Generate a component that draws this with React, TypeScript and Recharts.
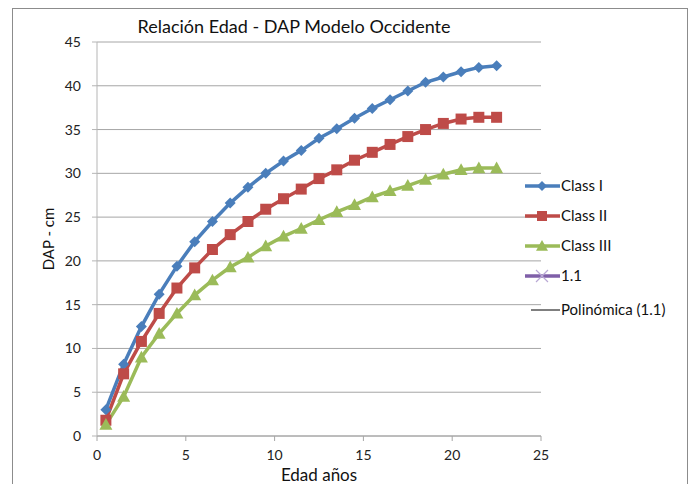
import React from 'react';
import { LineChart, Line, XAxis, YAxis, CartesianGrid } from 'recharts';

const ages = [0.5, 1.5, 2.5, 3.5, 4.5, 5.5, 6.5, 7.5, 8.5, 9.5, 10.5, 11.5, 12.5, 13.5, 14.5, 15.5, 16.5, 17.5, 18.5, 19.5, 20.5, 21.5, 22.5];
const classI = [3.0, 8.2, 12.5, 16.2, 19.4, 22.2, 24.5, 26.6, 28.4, 30.0, 31.4, 32.6, 34.0, 35.1, 36.3, 37.4, 38.4, 39.4, 40.4, 41.0, 41.6, 42.1, 42.3];
const classII = [1.8, 7.1, 10.8, 14.0, 16.9, 19.2, 21.3, 23.0, 24.5, 25.9, 27.1, 28.2, 29.4, 30.4, 31.5, 32.4, 33.3, 34.2, 35.0, 35.7, 36.2, 36.4, 36.4];
const classIII = [1.3, 4.5, 9.0, 11.7, 14.0, 16.1, 17.8, 19.3, 20.4, 21.7, 22.8, 23.7, 24.7, 25.6, 26.4, 27.3, 28.0, 28.6, 29.3, 29.9, 30.4, 30.6, 30.6];

const xTicks = [0, 5, 10, 15, 20, 25];
const yTicks = [0, 5, 10, 15, 20, 25, 30, 35, 40, 45];

const legendItems = ['Class I', 'Class II', 'Class III', '1.1', 'Polinómica (1.1)'];

const BLUE = '#4A7EBB';
const RED = '#BE4B48';
const GREEN = '#9BBB59';
const PURPLE = '#7F5FA8';

const FONT = 'Lato, "Open Sans", sans-serif';

const data = ages.map((age, i) => ({
  age,
  c1: classI[i],
  c2: classII[i],
  c3: classIII[i],
}));

const diamond = (cx: number, cy: number, r: number) =>
  `M${cx},${cy - r} L${cx + r},${cy} L${cx},${cy + r} L${cx - r},${cy} Z`;
const square = (cx: number, cy: number, r: number) =>
  `M${cx - r},${cy - r} L${cx + r},${cy - r} L${cx + r},${cy + r} L${cx - r},${cy + r} Z`;
const triangle = (cx: number, cy: number, r: number) =>
  `M${cx},${cy - r} L${cx + r},${cy + r * 0.8} L${cx - r},${cy + r * 0.8} Z`;

const DiamondDot = (props: any) => (
  <path key={`d-${props.index}`} d={diamond(props.cx, props.cy, 5.5)} fill={BLUE} />
);
const SquareDot = (props: any) => (
  <path key={`s-${props.index}`} d={square(props.cx, props.cy, 5.5)} fill={RED} />
);
const TriangleDot = (props: any) => (
  <path key={`t-${props.index}`} d={triangle(props.cx, props.cy, 6.5)} fill={GREEN} />
);

// legend drawn by hand: "1.1" and the trend line have no visible marks in the plot
function ChartLegend() {
  return (
    <svg width={174} height={150} style={{ position: 'absolute', left: 520, top: 168 }}>
      {legendItems.map((name, i) => {
        const y = 18 + i * 30 + (i === 4 ? 4 : 0);
        let mark = null;
        if (i === 0) mark = <path d={diamond(22, y, 5)} fill={BLUE} />;
        if (i === 1) mark = <path d={square(22, y, 5)} fill={RED} />;
        if (i === 2) mark = <path d={triangle(22, y, 6)} fill={GREEN} />;
        if (i === 3)
          mark = (
            <path d={`M16,${y - 6} L28,${y + 6} M16,${y + 6} L28,${y - 6}`} stroke="#B9A8D4" strokeWidth={1.2} />
          );
        const color = [BLUE, RED, GREEN, PURPLE, '#000'][i];
        return (
          <g key={name}>
            <line
              x1={i === 4 ? 11 : 5}
              x2={40}
              y1={y}
              y2={y}
              stroke={color}
              strokeWidth={i === 4 ? 1 : 3.5}
            />
            {mark}
            <text x={41} y={y} dy="0.35em" fontSize={15} fontFamily={FONT} fill="#111">
              {name}
            </text>
          </g>
        );
      })}
    </svg>
  );
}

export default function App() {
  return (
    <div style={{ position: 'absolute', left: 0, top: 0, width: 694, height: 484, overflow: 'hidden', background: '#fff' }}>
      <div
        style={{
          position: 'absolute',
          left: 12,
          top: 8,
          width: 674,
          height: 500,
          border: '1px solid #8c8c8c',
        }}
      />
      <div
        style={{
          position: 'absolute',
          left: 0,
          width: 588,
          top: 15,
          textAlign: 'center',
          fontFamily: FONT,
          fontSize: 18,
          color: '#111',
        }}
      >
        Relación Edad - DAP Modelo Occidente
      </div>
      <LineChart
        width={694}
        height={484}
        data={data}
        margin={{ top: 42, right: 153, bottom: 0, left: 0 }}
        style={{ position: 'absolute', left: 0, top: 0 }}
      >
        <CartesianGrid horizontal vertical={false} stroke="#a6a6a6" strokeWidth={1} />
        <XAxis
          dataKey="age"
          type="number"
          domain={[0, 25]}
          ticks={xTicks}
          height={48}
          stroke="#a6a6a6"
          tickSize={5}
          tickMargin={9}
          tick={{ fill: '#222', fontSize: 14, fontFamily: FONT }}
          label={{ value: 'Edad años', position: 'insideBottom', offset: 3, fill: '#111', fontSize: 17, fontFamily: FONT }}
        />
        <YAxis
          type="number"
          domain={[0, 45]}
          ticks={yTicks}
          width={97}
          stroke="#b5b5b5"
          tickSize={5}
          tickMargin={11}
          tick={{ fill: '#222', fontSize: 14, fontFamily: FONT }}
          label={{ value: 'DAP - cm', angle: -90, position: 'center', fill: '#111', fontSize: 15, fontFamily: FONT }}
        />
        <Line dataKey="c1" name="Class I" stroke={BLUE} strokeWidth={3.5} dot={DiamondDot} isAnimationActive={false} />
        <Line dataKey="c2" name="Class II" stroke={RED} strokeWidth={3.5} dot={SquareDot} isAnimationActive={false} />
        <Line dataKey="c3" name="Class III" stroke={GREEN} strokeWidth={3.5} dot={TriangleDot} isAnimationActive={false} />
      </LineChart>
      <ChartLegend />
    </div>
  );
}
